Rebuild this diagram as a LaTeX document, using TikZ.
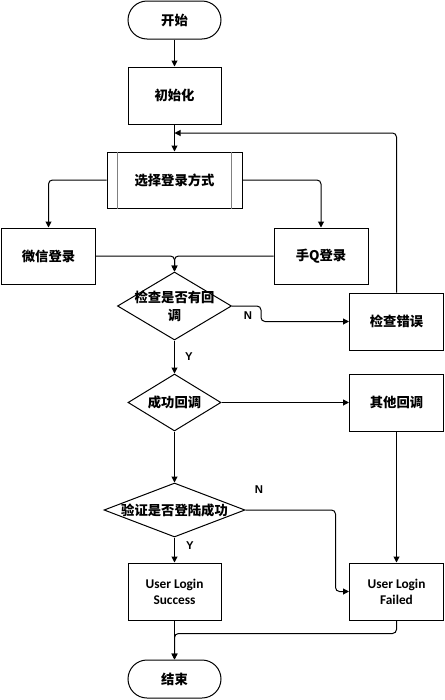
\documentclass[tikz,border=0pt]{standalone}
\usepackage{fontspec}
\setmainfont{Carlito}
\setsansfont{Liberation Sans}
\newfontfamily\cjk{Noto Sans CJK SC}
\usetikzlibrary{shapes.geometric,arrows.meta}
\newcommand\pxu{0.75pt}

\begin{document}
\begin{tikzpicture}[x=\pxu, y=-\pxu, line width=\pxu,
    >={Triangle[length=6*\pxu, width=6*\pxu]},
    font=\fontsize{10}{12}\selectfont\bfseries]

        \useasboundingbox (0,0) rectangle (445,700);

        \begin{scope}[every node/.style={draw, fill=white, align=center, inner sep=0pt,
                      minimum width=93*\pxu, minimum height=57*\pxu}]
          \node[rounded corners=19*\pxu, minimum height=38*\pxu] (start) at (174.5,20) {\cjk 开始};
          \node (init)     at (174.5,95.5)  {\cjk 初始化};
          \node[minimum width=135*\pxu, minimum height=56*\pxu] (choose) at (174.5,180) {\cjk 选择登录方式};
          \node[minimum width=94*\pxu, minimum height=56*\pxu] (wechat) at (48.5,256)  {\cjk 微信登录};
          \node[minimum width=94*\pxu, minimum height=56*\pxu] (shouq)  at (321,256)   {\cjk 手Q登录};
          \node[minimum width=94*\pxu] (checkerr) at (396.5,321.5) {\cjk 检查错误};
          \node[minimum width=94*\pxu] (other)    at (396.5,402.5) {\cjk 其他回调};
          \node (success)  at (174.5,591.5) {User Login\\Success};
          \node[minimum width=94*\pxu] (failed)   at (396.5,591.5) {User Login\\Failed};
          \node[rounded corners=19*\pxu, minimum height=38*\pxu] (end) at (174.5,679) {\cjk 结束};
        \end{scope}

        % bars of the predefined process
        \draw[gray, line width=1.5*\pxu] ([xshift=11*\pxu]choose.north west) -- ([xshift=11*\pxu]choose.south west);
        \draw[gray, line width=1.5*\pxu] ([xshift=-11*\pxu]choose.north east) -- ([xshift=-11*\pxu]choose.south east);

        \begin{scope}[every node/.style={diamond, draw, fill=white, inner sep=0pt},
                      every label/.style={shape=rectangle, draw=none, fill=none, align=center}]
          \node[minimum width=114*\pxu, minimum height=68*\pxu,
                label=center:{\cjk 检查是否有回\\[1.5pt]\cjk 调}] (chk) at (174.5,306) {};
          \node[minimum width=93*\pxu, minimum height=57*\pxu,
                label=center:{\cjk 成功回调}] (ok) at (174.5,402.5) {};
          \node[minimum width=141*\pxu, minimum height=54*\pxu,
                label=center:{\cjk 验证是否登陆成功}] (verify) at (174.5,510) {};
        \end{scope}

        \begin{scope}[every node/.style={font=\fontsize{8.5}{10}\selectfont\sffamily\bfseries}]
          \node (n1) at (248,316) {N};
          \node (y1) at (189,357) {Y};
          \node (n2) at (259,490) {N};
          \node (y2) at (190,546) {Y};
        \end{scope}

        \coordinate (back) at (174.5,133);

        \begin{scope}[every edge/.style={draw, ->}]
          \path (start)   edge (init);
          \path (init)    edge (choose);
          \path (chk)     edge (ok);
          \path (ok)      edge (other);
          \path (ok)      edge (verify);
          \path (verify)  edge (success);
          \path (other)   edge (failed);
          \path (success) edge (end);
        \end{scope}

        \begin{scope}[rounded corners=4*\pxu]
          \draw[->] (choose.west) -| (wechat.north);
          \draw[->] (choose.east) -| (shouq.north);
          \draw[->] (wechat.east) -| (chk.north);
          \draw[->] (shouq.west) -| (chk.north);
          \draw[->] (chk.east) -- ++(29,0) |- (checkerr.west);
          \draw[->] (checkerr.north) |- (back);
          \draw[->] (verify.east) -- ++(90,0) |- (failed.west);
          \draw[->] (failed.south) -- ++(0,13) -| (end.north);
        \end{scope}

      \end{tikzpicture}
\end{document}
